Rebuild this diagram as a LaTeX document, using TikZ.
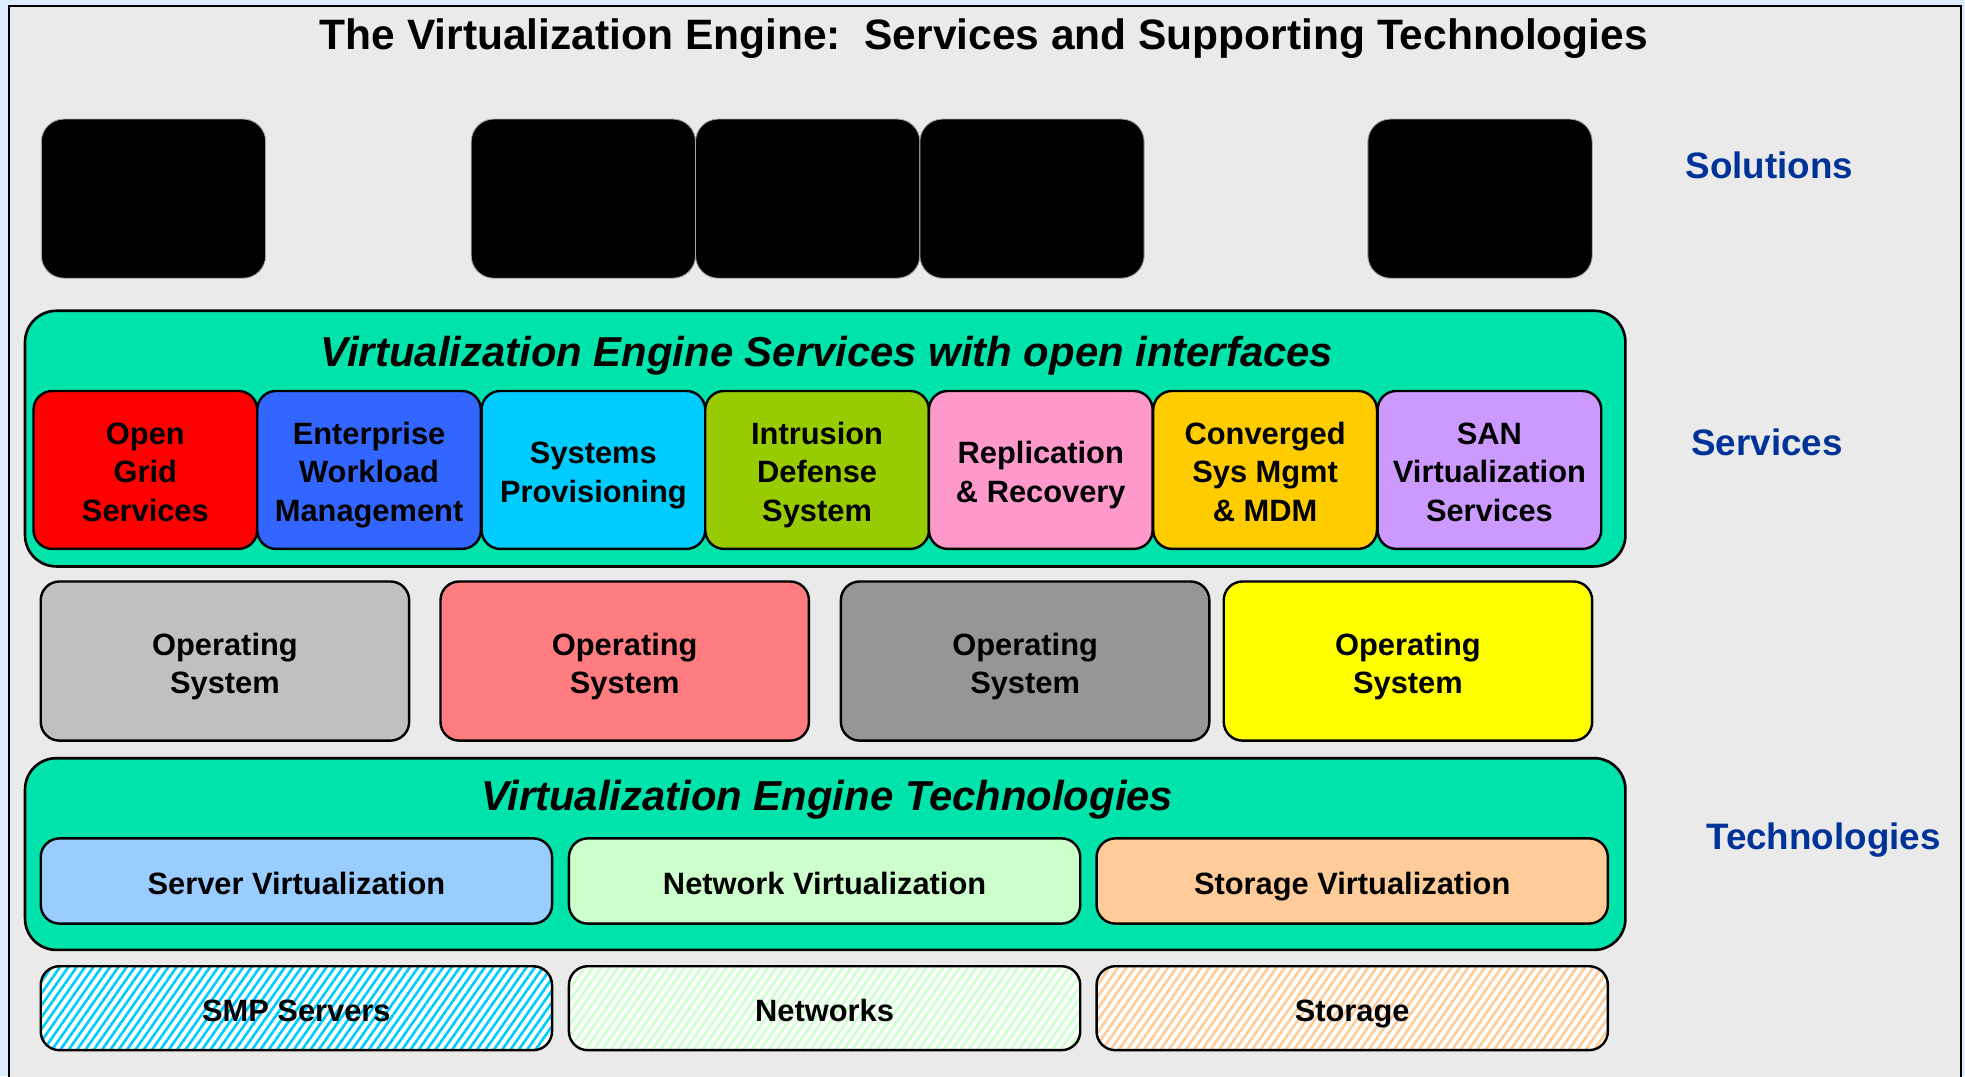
\documentclass[tikz,border=0pt]{standalone}
\usepackage{fontspec}
\setmainfont{Liberation Sans}
\usetikzlibrary{positioning, patterns.meta}

\begin{document}
\begin{tikzpicture}[x=0.2mm,y=-0.2mm,
    tile/.style={draw=black, line width=1.1pt, rounded corners=3mm, inner sep=0pt,
      align=center, font=\fontsize{14}{17.4}\selectfont\bfseries, text depth=0pt},
    oneline/.style={text height=11.9pt},
    twolines/.style={text height=29.3pt},
    threelines/.style={text height=46.6pt},
    solbox/.style={fill=black, draw=gray!70, thin, rounded corners=3.6mm,
      minimum width=35.8mm, minimum height=25.4mm},
    layer/.style={draw=black, line width=1.2pt, fill=layerGreen, rounded corners=5mm,
      minimum width=255.4mm},
    layertitle/.style={font=\fontsize{19}{23}\selectfont\bfseries\itshape},
    sidelabel/.style={text=labelBlue, font=\fontsize{16.7}{20}\selectfont\bfseries},
    hatched/.style={tile, oneline, preaction={fill=white},
      pattern={Lines[angle=55, distance=3.1pt, line width=1.2pt]}}]
  \definecolor{outerBg}{RGB}{222,235,255}
  \definecolor{frameBg}{RGB}{234,234,234}
  \definecolor{layerGreen}{RGB}{0,227,170}
  \definecolor{labelBlue}{RGB}{0,51,153}
  \definecolor{svcRed}{RGB}{255,0,0}
  \definecolor{svcBlue}{RGB}{51,102,255}
  \definecolor{svcCyan}{RGB}{0,204,255}
  \definecolor{svcGreen}{RGB}{153,204,0}
  \definecolor{svcPink}{RGB}{255,153,204}
  \definecolor{svcOrange}{RGB}{255,204,0}
  \definecolor{svcLilac}{RGB}{204,153,255}
  \definecolor{osGray}{RGB}{192,192,192}
  \definecolor{osSalmon}{RGB}{255,124,128}
  \definecolor{osDark}{RGB}{150,150,150}
  \definecolor{osYellow}{RGB}{255,255,0}
  \definecolor{techBlue}{RGB}{153,204,255}
  \definecolor{techMint}{RGB}{204,255,204}
  \definecolor{techPeach}{RGB}{255,204,153}
  \def\svcw{35.7mm}
  \def\osw{58.8mm}
  \def\techw{81.6mm}
  \useasboundingbox (0,0) rectangle (1568,859);
  \clip (0,0) rectangle (1568,859);
  \fill[outerBg] (0,0) rectangle (1568,859);
  \draw[line width=1pt, fill=frameBg] (7,5) rectangle (1565,880);

  % title and side labels
  \node[font=\fontsize{19.3}{23}\selectfont\bfseries] (title) at (785,31)
    {The Virtualization Engine:~~Services and Supporting Technologies};
  \node[sidelabel] (lblsol) at (1412,132) {Solutions};
  \node[sidelabel] (lblsvc) at (1410,353) {Services};
  \node[sidelabel] (lbltech) at (1455,670) {Technologies};

  % solutions row
  \node[solbox] (sol1) at (122.5,158.5) {};
  \node[solbox] (sol2) at (465.5,158.5) {};
  \node[solbox] (sol3) at (644.5,158.5) {};
  \node[solbox] (sol4) at (823.5,158.5) {};
  \node[solbox] (sol5) at (1181,158.5) {};

  % services layer
  \node[layer, minimum height=40.8mm] (svclayer) at (658.5,350) {};
  \node[layertitle] (svctitle) at (660,284) {Virtualization Engine Services with open interfaces};
  \node[tile, threelines, fill=svcRed, minimum width=\svcw, minimum height=25.2mm] (ogs) at (116,375) {Open\\Grid\\Services};
  \node[tile, threelines, fill=svcBlue, minimum width=\svcw, minimum height=25.2mm] (ewm) at (294.5,375) {Enterprise\\Workload\\Management};
  \node[tile, twolines, fill=svcCyan, minimum width=\svcw, minimum height=25.2mm] (sysprov) at (473.5,375) {Systems\\Provisioning};
  \node[tile, threelines, fill=svcGreen, minimum width=\svcw, minimum height=25.2mm] (ids) at (652,375) {Intrusion\\Defense\\System};
  \node[tile, twolines, fill=svcPink, minimum width=\svcw, minimum height=25.2mm] (reprec) at (830.5,375) {Replication\\\& Recovery};
  \node[tile, threelines, fill=svcOrange, minimum width=\svcw, minimum height=25.2mm] (csm) at (1009.5,375) {Converged\\Sys Mgmt\\\& MDM};
  \node[tile, threelines, fill=svcLilac, minimum width=\svcw, minimum height=25.2mm] (sanvs) at (1188.5,375) {SAN\\Virtualization\\Services};

  % operating systems
  \node[tile, twolines, fill=osGray, minimum width=\osw, minimum height=25.4mm] (os1) at (179.5,527.5) {Operating\\System};
  \node[tile, twolines, fill=osSalmon, minimum width=\osw, minimum height=25.4mm] (os2) at (498.5,527.5) {Operating\\System};
  \node[tile, twolines, fill=osDark, minimum width=\osw, minimum height=25.4mm] (os3) at (818,527.5) {Operating\\System};
  \node[tile, twolines, fill=osYellow, minimum width=\osw, minimum height=25.4mm] (os4) at (1123.5,527.5) {Operating\\System};

  % technologies layer
  \node[layer, minimum height=30.6mm] (techlayer) at (658.5,681.5) {};
  \node[layertitle] (techtitle) at (660,638) {Virtualization Engine Technologies};
  \node[tile, oneline, fill=techBlue, minimum width=\techw, minimum height=13.6mm] (servervirt) at (236.5,703) {Server Virtualization};
  \node[tile, oneline, fill=techMint, minimum width=\techw, minimum height=13.6mm] (netvirt) at (658,703) {Network Virtualization};
  \node[tile, oneline, fill=techPeach, minimum width=\techw, minimum height=13.6mm] (storvirt) at (1079,703) {Storage Virtualization};

  % hardware
  \node[hatched, pattern color=svcCyan, minimum width=\techw, minimum height=13.4mm] (smp) at (236.5,804.5) {SMP Servers};
  \node[hatched, pattern color=techMint, minimum width=\techw, minimum height=13.4mm] (nets) at (658,804.5) {Networks};
  \node[hatched, pattern color=techPeach, minimum width=\techw, minimum height=13.4mm] (stor) at (1079,804.5) {Storage};
\end{tikzpicture}
\end{document}
